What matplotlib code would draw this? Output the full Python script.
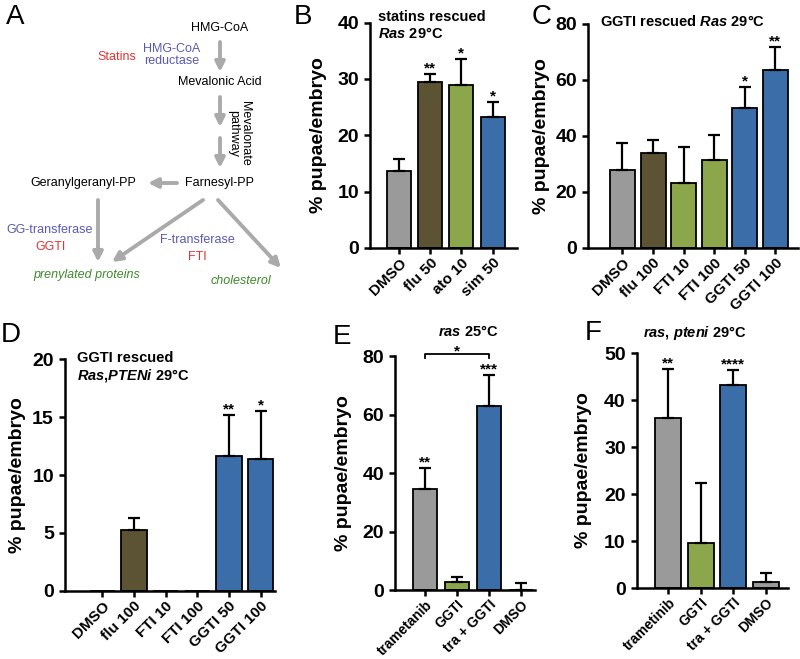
import matplotlib
matplotlib.use("Agg")
import matplotlib.pyplot as plt
from matplotlib import font_manager

names = {f.name for f in font_manager.fontManager.ttflist}
NARROW = "Liberation Sans Narrow" if "Liberation Sans Narrow" in names else "Liberation Sans"

plt.rcParams["font.family"] = [NARROW, "DejaVu Sans"]
plt.rcParams["font.weight"] = "bold"
plt.rcParams["mathtext.fontset"] = "custom"
plt.rcParams["mathtext.it"] = f"{NARROW}:italic:bold"
plt.rcParams["mathtext.rm"] = f"{NARROW}:bold"

GRAY = "#9a9a9a"
OLIVE = "#5b5333"
GREEN = "#8ba64b"
BLUE = "#3b6ea8"

# ---- data ----
cats_b = ["DMSO", "flu 50", "ato 10", "sim 50"]
vals_b = [13.6, 29.4, 28.9, 23.2]
err_b = [2.2, 1.4, 4.6, 2.7]
sig_b = ["", "**", "*", "*"]
cols_b = [GRAY, OLIVE, GREEN, BLUE]

cats_c = ["DMSO", "flu 100", "FTI 10", "FTI 100", "GGTI 50", "GGTI 100"]
vals_c = [27.9, 34.0, 23.3, 31.4, 49.9, 63.6]
err_c = [9.5, 4.6, 12.7, 8.8, 7.5, 8.3]
sig_c = ["", "", "", "", "*", "**"]
cols_c = [GRAY, OLIVE, GREEN, GREEN, BLUE, BLUE]

cats_d = ["DMSO", "flu 100", "FTI 10", "FTI 100", "GGTI 50", "GGTI 100"]
vals_d = [0, 5.25, 0, 0, 11.6, 11.35]
err_d = [0, 1.05, 0, 0, 3.6, 4.15]
sig_d = ["", "", "", "", "**", "*"]
cols_d = [GRAY, OLIVE, GREEN, GREEN, BLUE, BLUE]

cats_e = ["trametanib", "GGTI", "tra + GGTI", "DMSO"]
vals_e = [34.6, 2.6, 63.0, 0]
err_e = [7.1, 2.0, 10.6, 2.3]
sig_e = ["**", "", "***", ""]
cols_e = [GRAY, GREEN, BLUE, GRAY]

cats_f = ["trametinib", "GGTI", "tra + GGTI", "DMSO"]
vals_f = [36.1, 9.6, 43.2, 1.3]
err_f = [10.4, 12.7, 3.2, 1.8]
sig_f = ["**", "", "****", ""]
cols_f = [GRAY, GREEN, BLUE, GRAY]

fig = plt.figure(figsize=(8, 6.59), dpi=100)


def bar_panel(rect, cats, vals, errs, sigs, cols, ylim, yticks, xlim, width, ylab_x, xfs=11):
    ax = fig.add_axes(rect)
    ax.patch.set_alpha(0)
    x = list(range(len(cats)))
    ax.bar(x, vals, width=width, color=cols, edgecolor="black", linewidth=1.3, zorder=2)
    ex = [i for i in x if errs[i] > 0]
    ax.errorbar(ex, [vals[i] for i in ex], yerr=[[0] * len(ex), [errs[i] for i in ex]],
                fmt="none", ecolor="black", elinewidth=1.6, capsize=4.5, capthick=1.6, zorder=3)
    for i in x:
        if sigs[i]:
            ax.annotate(sigs[i], (i, vals[i] + errs[i]), xytext=(0, -1), textcoords="offset points",
                        ha="center", va="bottom", fontsize=11, fontweight="bold", annotation_clip=False)
    ax.set_ylim(*ylim)
    ax.set_yticks(yticks)
    ax.set_xlim(*xlim)
    ax.set_xticks(x)
    ax.set_xticklabels(cats, rotation=45, ha="right", rotation_mode="anchor")
    for s in ("top", "right"):
        ax.spines[s].set_visible(False)
    for s in ("left", "bottom"):
        ax.spines[s].set_linewidth(1.8)
    ax.tick_params(width=1.8, length=4.5, labelsize=14)
    ax.tick_params(axis="x", labelsize=xfs, pad=1)
    ax.set_ylabel("% pupae/embryo", fontsize=14, fontweight="bold")
    ax.yaxis.set_label_coords(ylab_x, 0.5)
    return ax


axB = bar_panel([0.4625, 0.6237, 0.184, 0.342], cats_b, vals_b, err_b, sig_b, cols_b,
                (0, 40), [0, 10, 20, 30, 40], (-0.935, 3.79), 0.77, -0.29)
axC = bar_panel([0.735, 0.6237, 0.2625, 0.340], cats_c, vals_c, err_c, sig_c, cols_c,
                (0, 80), [0, 20, 40, 60, 80], (-1.13, 5.75), 0.82, -0.18)
axD = bar_panel([0.08125, 0.1032, 0.2625, 0.352], cats_d, vals_d, err_d, sig_d, cols_d,
                (0, 20), [0, 5, 10, 15, 20], (-1.18, 5.45), 0.8, -0.186)
axE = bar_panel([0.49375, 0.1047, 0.175, 0.355], cats_e, vals_e, err_e, sig_e, cols_e,
                (0, 80), [0, 20, 40, 60, 80], (-0.94, 3.44), 0.77, -0.307, xfs=10)
axF = bar_panel([0.796, 0.1077, 0.189, 0.3566], cats_f, vals_f, err_f, sig_f, cols_f,
                (0, 50), [0, 10, 20, 30, 40, 50], (-0.97, 3.69), 0.8, -0.298, xfs=10)

# bracket in E
axE.plot([0, 0, 2, 2], [79.4, 80.8, 80.8, 79.4], color="black", lw=1.3, clip_on=False)
axE.text(1, 80.2, "*", ha="center", va="baseline", fontsize=11, fontweight="bold")

# overlay for panel A, letters and titles (pixel coordinates)
ov = fig.add_axes([0, 0, 1, 1], zorder=10)
ov.set_xlim(0, 800)
ov.set_ylim(659, 0)
ov.axis("off")
ov.patch.set_visible(False)

for lab, (lx, ly) in {"A": (15, 17), "B": (303, 17), "C": (542, 17),
                      "D": (11, 335), "E": (342, 337), "F": (593, 333)}.items():
    ov.text(lx, ly, lab, fontsize=20, fontweight="normal", family="Liberation Sans",
            ha="center", va="center")

tf = dict(fontsize=10.5, va="center")
ov.text(378, 17, "statins rescued", ha="left", **tf)
ov.text(378, 33, r"$\mathit{Ras}$ 29°C", ha="left", **tf)
ov.text(600, 22, r"GGTI rescued $\mathit{Ras}$ 29°C", ha="left", **tf)
ov.text(77, 358, "GGTI rescued", ha="left", **tf)
ov.text(77, 375, r"$\mathit{Ras}$,$\mathit{PTENi}$ 29°C", ha="left", **tf)
ov.text(468, 332, r"$\mathit{ras}$ 25°C", ha="center", **tf)
ov.text(695, 333, r"$\mathit{ras}$, $\mathit{pteni}$ 29°C", ha="center", **tf)

# panel A pathway
RED = "#e03535"
PBLUE = "#5a5ab8"
PGREEN = "#3f8a2e"
AGRAY = "#aaaaaa"
fa = dict(fontsize=9, fontweight="normal", ha="center", va="center")
ov.text(220, 28, "HMG-CoA", color="black", **fa)
ov.text(117, 57, "Statins", color=RED, **fa)
ov.text(172, 55, "HMG-CoA\nreductase", color=PBLUE, linespacing=0.9, **fa)
ov.text(220, 82, "Mevalonic Acid", color="black", **fa)
ov.text(239, 133, "Mevalonate\npathway", color="black", rotation=-90, linespacing=0.9, **fa)
ov.text(83, 183, "Geranylgeranyl-PP", color="black", **fa)
ov.text(220, 183, "Farnesyl-PP", color="black", **fa)
ov.text(50, 230, "GG-transferase", color=PBLUE, **fa)
ov.text(50, 247, "GGTI", color=RED, **fa)
ov.text(197, 240, "F-transferase", color=PBLUE, **fa)
ov.text(197, 257, "FTI", color=RED, **fa)
ov.text(87, 275, "prenylated proteins", color=PGREEN, style="italic", **fa)
ov.text(241, 281, "cholesterol", color=PGREEN, style="italic", **fa)

arrows = [((220, 42), (220, 72)), ((220, 97), (220, 127)), ((220, 138), (220, 168)),
          ((177, 183), (148, 183)), ((98, 200), (98, 262)), ((203, 200), (112, 262)),
          ((218, 200), (281, 268))]
for (x0, y0), (x1, y1) in arrows:
    ov.annotate("", xy=(x1, y1), xytext=(x0, y0),
                arrowprops=dict(arrowstyle="-|>", color=AGRAY, lw=2.8, mutation_scale=14,
                                shrinkA=0, shrinkB=0))

fig.savefig("out.png", dpi=100)
